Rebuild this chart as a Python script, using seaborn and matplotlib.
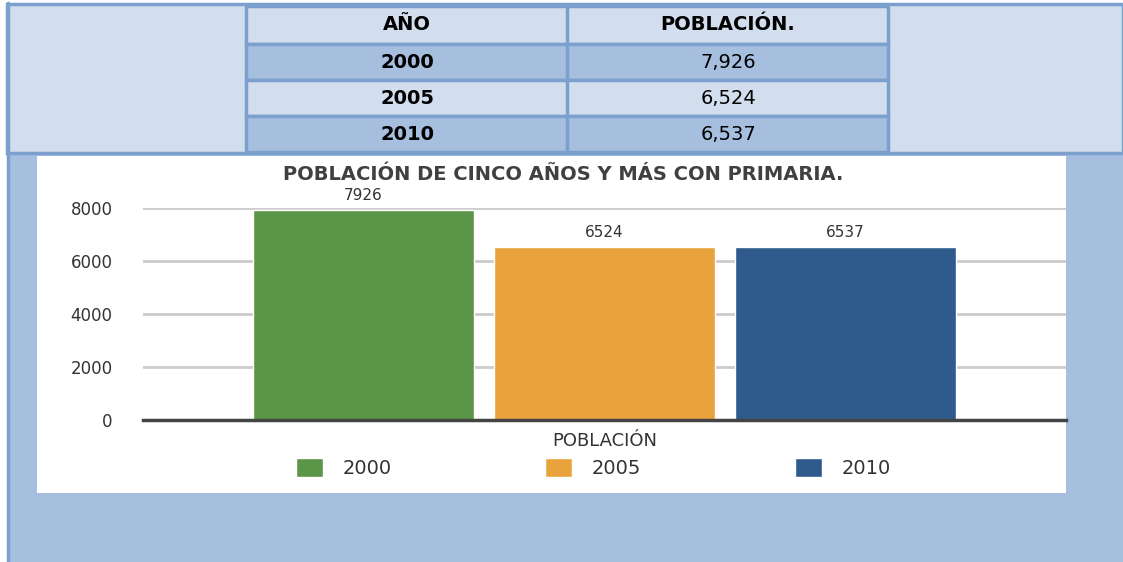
import matplotlib
matplotlib.use('Agg')
import matplotlib.pyplot as plt
import seaborn as sns
import pandas as pd
from matplotlib.patches import Rectangle

# datos
years = ['2000', '2005', '2010']
poblacion = [7926, 6524, 6537]
tabla_pob = ['7,926', '6,524', '6,537']
categoria = 'POBLACIÓN'
colores = ['#5b9648', '#e8a33d', '#2e5a8c']

df = pd.DataFrame({'cat': [categoria] * 3, 'year': years, 'valor': poblacion})

sns.set_theme(style='white')
plt.rcParams['font.family'] = ['DejaVu Sans']

W, H = 1123, 562
fig = plt.figure(figsize=(W / 100, H / 100), dpi=100, facecolor='white')

# capa de fondo en pixeles
bg = fig.add_axes([0, 0, 1, 1], zorder=0)
bg.set_xlim(0, W)
bg.set_ylim(H, 0)
bg.axis('off')

azul = '#a7bfdf'
claro = '#d2deee'
borde = '#7ba0cd'

bg.add_patch(Rectangle((7, 153), W - 7, H - 153, fc=azul, ec='none'))
bg.add_patch(Rectangle((37, 156), 1029, 337, fc='white', ec='none'))
bg.plot([8, 8], [3, H], color=borde, lw=2.5)

# tabla
row_y = [6, 44, 80, 116, 152]
bg.add_patch(Rectangle((7, 4), W - 7, 149, fc=claro, ec=borde, lw=2.5))
for i in range(4):
    fc = claro if i % 2 == 0 else azul
    bg.add_patch(Rectangle((246, row_y[i]), 642, row_y[i + 1] - row_y[i],
                           fc=fc, ec=borde, lw=2.5))
bg.plot([567, 567], [6, 152], color=borde, lw=2.5)

col1 = ['AÑO'] + years
col2 = ['POBLACIÓN.'] + tabla_pob
for i in range(4):
    yc = (row_y[i] + row_y[i + 1]) / 2
    bg.text(407, yc, col1[i], ha='center', va='center', fontsize=14,
            fontweight='bold', color='black')
    bg.text(728, yc, col2[i], ha='center', va='center', fontsize=14,
            fontweight='bold' if i == 0 else 'normal', color='black')

# grafica
ax = fig.add_axes([143 / W, 1 - 420 / H, 923 / W, 212 / H], zorder=1)
ax.patch.set_alpha(0)
sns.barplot(data=df, x='cat', y='valor', hue='year', palette=colores,
            width=0.784, gap=0.086, saturation=1, ax=ax, legend=True)
ax.set_xlim(-0.5, 0.5)
ax.set_ylim(0, 8000)
ax.set_yticks([0, 2000, 4000, 6000, 8000])
ax.yaxis.grid(True, color='#cccccc', lw=2)
ax.set_axisbelow(True)
for s in ['top', 'right', 'left']:
    ax.spines[s].set_visible(False)
ax.spines['bottom'].set_color('#444444')
ax.spines['bottom'].set_linewidth(2.5)
ax.tick_params(axis='y', length=0, pad=22, labelsize=12, labelcolor='#333333')
ax.set_xticks([])
ax.set_ylabel('')
ax.set_xlabel(categoria, fontsize=13, color='#333333', labelpad=9)

for cont in ax.containers:
    ax.bar_label(cont, padding=5, fontsize=11, color='#333333')

fig.text(563 / W, 1 - 174 / H, 'POBLACIÓN DE CINCO AÑOS Y MÁS CON PRIMARIA.',
         ha='center', va='center', fontsize=14, fontweight='bold', color='#404040')

handles, labels = ax.get_legend_handles_labels()
ax.get_legend().remove()
fig.legend(handles, labels, loc='center', bbox_to_anchor=(593 / W, 1 - 468 / H),
           ncol=3, frameon=False, fontsize=14, handlelength=1.4, handleheight=1.1,
           handletextpad=1.0, columnspacing=7.9, labelcolor='#333333')

fig.savefig('out.png', dpi=100, facecolor=fig.get_facecolor())
